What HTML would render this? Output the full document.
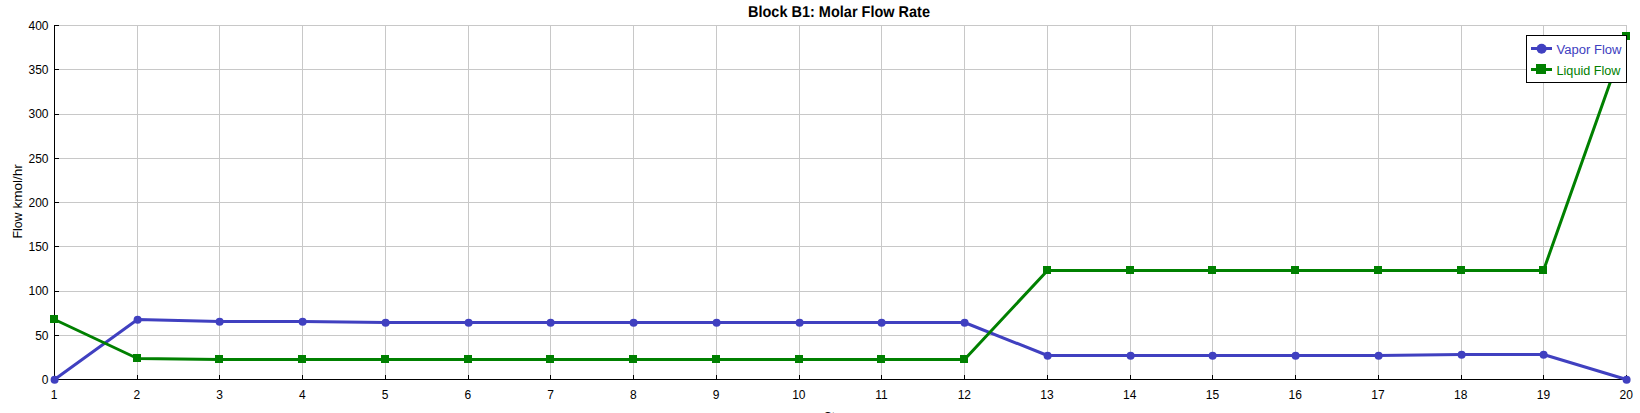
<!DOCTYPE html>
<html><head><meta charset="utf-8"><title>Block B1: Molar Flow Rate</title>
<style>
html,body{margin:0;padding:0;background:#fff;width:1640px;height:413px;overflow:hidden}
svg{display:block}
.g{stroke:#c8c8c8;stroke-width:1;shape-rendering:crispEdges}
.a{stroke:#000;stroke-width:1;shape-rendering:crispEdges}
.t{font-family:"Liberation Sans", Arial, sans-serif;font-size:12px;fill:#000}
.title{font-family:"Liberation Sans", Arial, sans-serif;font-size:15.8px;font-weight:bold;fill:#000;text-rendering:geometricPrecision}
</style></head><body>
<svg width="1640" height="413" viewBox="0 0 1640 413">
<line x1="54.5" y1="25" x2="54.5" y2="379" class="g"/>
<line x1="137.5" y1="25" x2="137.5" y2="379" class="g"/>
<line x1="219.5" y1="25" x2="219.5" y2="379" class="g"/>
<line x1="302.5" y1="25" x2="302.5" y2="379" class="g"/>
<line x1="385.5" y1="25" x2="385.5" y2="379" class="g"/>
<line x1="468.5" y1="25" x2="468.5" y2="379" class="g"/>
<line x1="550.5" y1="25" x2="550.5" y2="379" class="g"/>
<line x1="633.5" y1="25" x2="633.5" y2="379" class="g"/>
<line x1="716.5" y1="25" x2="716.5" y2="379" class="g"/>
<line x1="799.5" y1="25" x2="799.5" y2="379" class="g"/>
<line x1="881.5" y1="25" x2="881.5" y2="379" class="g"/>
<line x1="964.5" y1="25" x2="964.5" y2="379" class="g"/>
<line x1="1047.5" y1="25" x2="1047.5" y2="379" class="g"/>
<line x1="1130.5" y1="25" x2="1130.5" y2="379" class="g"/>
<line x1="1212.5" y1="25" x2="1212.5" y2="379" class="g"/>
<line x1="1295.5" y1="25" x2="1295.5" y2="379" class="g"/>
<line x1="1378.5" y1="25" x2="1378.5" y2="379" class="g"/>
<line x1="1461.5" y1="25" x2="1461.5" y2="379" class="g"/>
<line x1="1543.5" y1="25" x2="1543.5" y2="379" class="g"/>
<line x1="1626.5" y1="25" x2="1626.5" y2="379" class="g"/>
<line x1="54" y1="379.5" x2="1627" y2="379.5" class="g"/>
<line x1="54" y1="335.5" x2="1627" y2="335.5" class="g"/>
<line x1="54" y1="291.5" x2="1627" y2="291.5" class="g"/>
<line x1="54" y1="246.5" x2="1627" y2="246.5" class="g"/>
<line x1="54" y1="202.5" x2="1627" y2="202.5" class="g"/>
<line x1="54" y1="158.5" x2="1627" y2="158.5" class="g"/>
<line x1="54" y1="114.5" x2="1627" y2="114.5" class="g"/>
<line x1="54" y1="69.5" x2="1627" y2="69.5" class="g"/>
<line x1="54" y1="25.5" x2="1627" y2="25.5" class="g"/>
<line x1="54.5" y1="25" x2="54.5" y2="380" class="a"/>
<line x1="54" y1="379.5" x2="1627" y2="379.5" class="a"/>
<line x1="54" y1="379.5" x2="59" y2="379.5" class="a"/>
<line x1="54" y1="335.5" x2="59" y2="335.5" class="a"/>
<line x1="54" y1="291.5" x2="59" y2="291.5" class="a"/>
<line x1="54" y1="246.5" x2="59" y2="246.5" class="a"/>
<line x1="54" y1="202.5" x2="59" y2="202.5" class="a"/>
<line x1="54" y1="158.5" x2="59" y2="158.5" class="a"/>
<line x1="54" y1="114.5" x2="59" y2="114.5" class="a"/>
<line x1="54" y1="69.5" x2="59" y2="69.5" class="a"/>
<line x1="54" y1="25.5" x2="59" y2="25.5" class="a"/>
<line x1="54.5" y1="375" x2="54.5" y2="380" class="a"/>
<line x1="137.5" y1="375" x2="137.5" y2="380" class="a"/>
<line x1="219.5" y1="375" x2="219.5" y2="380" class="a"/>
<line x1="302.5" y1="375" x2="302.5" y2="380" class="a"/>
<line x1="385.5" y1="375" x2="385.5" y2="380" class="a"/>
<line x1="468.5" y1="375" x2="468.5" y2="380" class="a"/>
<line x1="550.5" y1="375" x2="550.5" y2="380" class="a"/>
<line x1="633.5" y1="375" x2="633.5" y2="380" class="a"/>
<line x1="716.5" y1="375" x2="716.5" y2="380" class="a"/>
<line x1="799.5" y1="375" x2="799.5" y2="380" class="a"/>
<line x1="881.5" y1="375" x2="881.5" y2="380" class="a"/>
<line x1="964.5" y1="375" x2="964.5" y2="380" class="a"/>
<line x1="1047.5" y1="375" x2="1047.5" y2="380" class="a"/>
<line x1="1130.5" y1="375" x2="1130.5" y2="380" class="a"/>
<line x1="1212.5" y1="375" x2="1212.5" y2="380" class="a"/>
<line x1="1295.5" y1="375" x2="1295.5" y2="380" class="a"/>
<line x1="1378.5" y1="375" x2="1378.5" y2="380" class="a"/>
<line x1="1461.5" y1="375" x2="1461.5" y2="380" class="a"/>
<line x1="1543.5" y1="375" x2="1543.5" y2="380" class="a"/>
<line x1="1626.5" y1="375" x2="1626.5" y2="380" class="a"/>
<text x="48.5" y="383.80" text-anchor="end" class="t">0</text>
<text x="48.5" y="339.55" text-anchor="end" class="t">50</text>
<text x="48.5" y="295.30" text-anchor="end" class="t">100</text>
<text x="48.5" y="251.05" text-anchor="end" class="t">150</text>
<text x="48.5" y="206.80" text-anchor="end" class="t">200</text>
<text x="48.5" y="162.55" text-anchor="end" class="t">250</text>
<text x="48.5" y="118.30" text-anchor="end" class="t">300</text>
<text x="48.5" y="74.05" text-anchor="end" class="t">350</text>
<text x="48.5" y="29.80" text-anchor="end" class="t">400</text>
<text x="54.20" y="399" text-anchor="middle" class="t">1</text>
<text x="136.94" y="399" text-anchor="middle" class="t">2</text>
<text x="219.67" y="399" text-anchor="middle" class="t">3</text>
<text x="302.41" y="399" text-anchor="middle" class="t">4</text>
<text x="385.15" y="399" text-anchor="middle" class="t">5</text>
<text x="467.88" y="399" text-anchor="middle" class="t">6</text>
<text x="550.62" y="399" text-anchor="middle" class="t">7</text>
<text x="633.36" y="399" text-anchor="middle" class="t">8</text>
<text x="716.09" y="399" text-anchor="middle" class="t">9</text>
<text x="798.83" y="399" text-anchor="middle" class="t">10</text>
<text x="881.57" y="399" text-anchor="middle" class="t">11</text>
<text x="964.31" y="399" text-anchor="middle" class="t">12</text>
<text x="1047.04" y="399" text-anchor="middle" class="t">13</text>
<text x="1129.78" y="399" text-anchor="middle" class="t">14</text>
<text x="1212.52" y="399" text-anchor="middle" class="t">15</text>
<text x="1295.25" y="399" text-anchor="middle" class="t">16</text>
<text x="1377.99" y="399" text-anchor="middle" class="t">17</text>
<text x="1460.73" y="399" text-anchor="middle" class="t">18</text>
<text x="1543.46" y="399" text-anchor="middle" class="t">19</text>
<text x="1626.20" y="399" text-anchor="middle" class="t">20</text>
<polyline points="54.5,379.5 137.5,319.5 219.5,321.5 302.5,321.5 385.5,322.5 468.5,322.5 550.5,322.5 633.5,322.5 716.5,322.5 799.5,322.5 881.5,322.5 964.5,322.5 1047.5,355.5 1130.5,355.5 1212.5,355.5 1295.5,355.5 1378.5,355.5 1461.5,354.5 1543.5,354.5 1626.5,379.5" fill="none" stroke="#4040c0" stroke-width="3" stroke-linejoin="round"/>
<circle cx="54.6" cy="379.8" r="4" fill="#4040c0"/>
<circle cx="137.6" cy="319.8" r="4" fill="#4040c0"/>
<circle cx="219.6" cy="321.8" r="4" fill="#4040c0"/>
<circle cx="302.6" cy="321.8" r="4" fill="#4040c0"/>
<circle cx="385.6" cy="322.8" r="4" fill="#4040c0"/>
<circle cx="468.6" cy="322.8" r="4" fill="#4040c0"/>
<circle cx="550.6" cy="322.8" r="4" fill="#4040c0"/>
<circle cx="633.6" cy="322.8" r="4" fill="#4040c0"/>
<circle cx="716.6" cy="322.8" r="4" fill="#4040c0"/>
<circle cx="799.6" cy="322.8" r="4" fill="#4040c0"/>
<circle cx="881.6" cy="322.8" r="4" fill="#4040c0"/>
<circle cx="964.6" cy="322.8" r="4" fill="#4040c0"/>
<circle cx="1047.6" cy="355.8" r="4" fill="#4040c0"/>
<circle cx="1130.6" cy="355.8" r="4" fill="#4040c0"/>
<circle cx="1212.6" cy="355.8" r="4" fill="#4040c0"/>
<circle cx="1295.6" cy="355.8" r="4" fill="#4040c0"/>
<circle cx="1378.6" cy="355.8" r="4" fill="#4040c0"/>
<circle cx="1461.6" cy="354.8" r="4" fill="#4040c0"/>
<circle cx="1543.6" cy="354.8" r="4" fill="#4040c0"/>
<circle cx="1626.6" cy="379.8" r="4" fill="#4040c0"/>
<polyline points="54.5,319.5 137.5,358.5 219.5,359.5 302.5,359.5 385.5,359.5 468.5,359.5 550.5,359.5 633.5,359.5 716.5,359.5 799.5,359.5 881.5,359.5 964.5,359.5 1047.5,270.5 1130.5,270.5 1212.5,270.5 1295.5,270.5 1378.5,270.5 1461.5,270.5 1543.5,270.5 1626.5,36.5" fill="none" stroke="#008000" stroke-width="3" stroke-linejoin="round"/>
<rect x="50" y="315" width="8" height="8" fill="#008000"/>
<rect x="133" y="354" width="8" height="8" fill="#008000"/>
<rect x="215" y="355" width="8" height="8" fill="#008000"/>
<rect x="298" y="355" width="8" height="8" fill="#008000"/>
<rect x="381" y="355" width="8" height="8" fill="#008000"/>
<rect x="464" y="355" width="8" height="8" fill="#008000"/>
<rect x="546" y="355" width="8" height="8" fill="#008000"/>
<rect x="629" y="355" width="8" height="8" fill="#008000"/>
<rect x="712" y="355" width="8" height="8" fill="#008000"/>
<rect x="795" y="355" width="8" height="8" fill="#008000"/>
<rect x="877" y="355" width="8" height="8" fill="#008000"/>
<rect x="960" y="355" width="8" height="8" fill="#008000"/>
<rect x="1043" y="266" width="8" height="8" fill="#008000"/>
<rect x="1126" y="266" width="8" height="8" fill="#008000"/>
<rect x="1208" y="266" width="8" height="8" fill="#008000"/>
<rect x="1291" y="266" width="8" height="8" fill="#008000"/>
<rect x="1374" y="266" width="8" height="8" fill="#008000"/>
<rect x="1457" y="266" width="8" height="8" fill="#008000"/>
<rect x="1539" y="266" width="8" height="8" fill="#008000"/>
<rect x="1622" y="32" width="8" height="8" fill="#008000"/>
<rect x="1526.5" y="35.5" width="100" height="47" fill="#fff" stroke="#000" stroke-width="1"/>
<line x1="1531" y1="48.5" x2="1552" y2="48.5" stroke="#4040c0" stroke-width="3"/>
<circle cx="1541.6" cy="48.8" r="5" fill="#4040c0"/>
<text x="1556.5" y="53.8" class="t" style="fill:#4040c0" textLength="65" lengthAdjust="spacingAndGlyphs">Vapor Flow</text>
<line x1="1531" y1="69.5" x2="1552" y2="69.5" stroke="#008000" stroke-width="3"/>
<rect x="1536" y="64" width="10" height="10" fill="#008000"/>
<text x="1556.5" y="75" class="t" style="fill:#008000" textLength="64" lengthAdjust="spacingAndGlyphs">Liquid Flow</text>
<text x="748" y="17" class="title" textLength="182" lengthAdjust="spacingAndGlyphs">Block B1: Molar Flow Rate</text>
<text transform="translate(22,238.6) rotate(-90)" class="t" style="font-size:13px"><tspan textLength="26" lengthAdjust="spacingAndGlyphs">Flow</tspan><tspan x="30" textLength="44.5" lengthAdjust="spacingAndGlyphs">kmol/hr</tspan></text>
<text x="824" y="420.6" class="t" textLength="30" lengthAdjust="spacingAndGlyphs">Stage</text>
</svg>
</body></html>
